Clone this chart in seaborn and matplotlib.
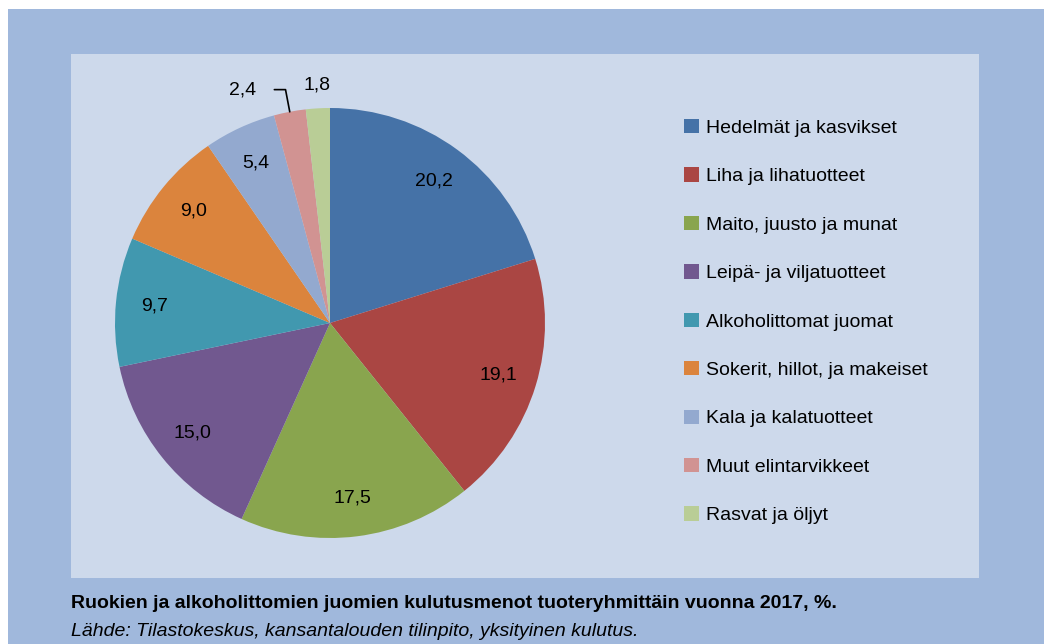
import numpy as np
import matplotlib
matplotlib.use("Agg")
import matplotlib.pyplot as plt
import matplotlib.patches as mpatches
import seaborn as sns

# Data
categories = ["Hedelmät ja kasvikset", "Liha ja lihatuotteet", "Maito, juusto ja munat",
              "Leipä- ja viljatuotteet", "Alkoholittomat juomat", "Sokerit, hillot, ja makeiset",
              "Kala ja kalatuotteet", "Muut elintarvikkeet", "Rasvat ja öljyt"]
shares = [20.2, 19.1, 17.5, 15.0, 9.7, 9.0, 5.4, 2.4, 1.8]
colors = ["#4572A7", "#AA4643", "#89A54E", "#71588F", "#4198AF",
          "#DB843D", "#93A9CF", "#D19392", "#B9CD96"]
title = "Ruokien ja alkoholittomien juomien kulutusmenot tuoteryhmittäin vuonna 2017, %."
source = "Lähde: Tilastokeskus, kansantalouden tilinpito, yksityinen kulutus."

sns.set_style("white")
plt.rcParams["font.family"] = ["Liberation Sans", "DejaVu Sans"]
plt.rcParams["text.color"] = "black"
palette = sns.color_palette(colors)

W, H = 1046, 644
fig = plt.figure(figsize=(W / 100, H / 100), dpi=100)
fig.patch.set_facecolor("white")

# outer and inner background panels (pixel coords -> figure fraction)
def box(x0, y0, x1, y1, color):
    fig.patches.append(mpatches.Rectangle((x0 / W, 1 - y1 / H), (x1 - x0) / W, (y1 - y0) / H,
                                          transform=fig.transFigure, facecolor=color,
                                          edgecolor="none", zorder=-5))

box(8, 9, 1044, 644, "#A0B8DC")
box(71, 54, 979, 578, "#CDD9EB")

# pie axes: centre (330, 323), radius 215 px
cx, cy, r = 330, 323, 215
ax = fig.add_axes([(cx - r) / W, 1 - (cy + r) / H, 2 * r / W, 2 * r / H])
ax.set_facecolor("none")
wedges, _ = ax.pie(shares, colors=palette, startangle=90, counterclock=False,
                   radius=1, wedgeprops={"linewidth": 0})
ax.set_xlim(-1, 1)
ax.set_ylim(-1, 1)
ax.axis("off")

fs = 14
for i, (w, v) in enumerate(zip(wedges, shares)):
    mid = np.deg2rad((w.theta1 + w.theta2) / 2)
    txt = f"{v:.1f}".replace(".", ",")
    if i == 7:
        # leader line from the slice edge, then left
        x0, y0 = np.cos(mid), np.sin(mid)
        x1, y1 = 1.105 * np.cos(mid), 1.105 * np.sin(mid)
        ax.plot([x0, x1, x1 - 0.052], [y0, y1, y1], color="black", lw=1.2, clip_on=False)
        ax.text(x1 - 0.135, y1, txt, ha="right", va="center", fontsize=fs, clip_on=False)
    elif i == 8:
        ax.text(1.11 * np.cos(mid), 1.11 * np.sin(mid), txt, ha="center", va="center",
                fontsize=fs, clip_on=False)
    else:
        ax.text(0.82 * np.cos(mid), 0.82 * np.sin(mid), txt, ha="center", va="center",
                fontsize=fs)

handles = [mpatches.Patch(facecolor=c, edgecolor="none") for c in palette]
fig.legend(handles, categories, loc="upper left", bbox_to_anchor=(684 / W, 1 - 119 / H),
           frameon=False, fontsize=fs, handlelength=0.75, handleheight=0.75,
           handletextpad=0.4, labelspacing=1.57, borderpad=0, borderaxespad=0)

fig.text(71 / W, 1 - 603 / H, title, fontsize=fs, fontweight="bold", va="center", ha="left")
fig.text(71 / W, 1 - 631 / H, source, fontsize=fs, fontstyle="italic", va="center", ha="left")

fig.savefig("out.png", dpi=100)
